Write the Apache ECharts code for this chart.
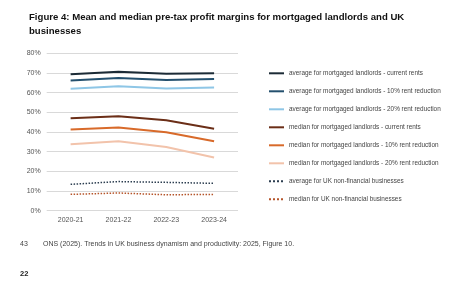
<!DOCTYPE html>
<html>
<head>
<meta charset="utf-8">
<script src="https://cdn.jsdelivr.net/npm/echarts@6/dist/echarts.min.js"></script>
<style>
html, body { margin: 0; padding: 0; background: #fff; }
#main { width: 465px; height: 301px; }
</style>
</head>
<body>
<div id="main"></div>
<script>
var years = ["2020-21", "2021-22", "2022-23", "2023-24"];
var yTicks = [0, 10, 20, 30, 40, 50, 60, 70, 80];

var avgCurrent = [69.4, 70.6, 69.6, 69.9];
var avg10 = [66.2, 67.4, 66.4, 66.9];
var avg20 = [62.0, 63.3, 62.1, 62.6];
var medCurrent = [47.0, 48.0, 46.0, 41.6];
var med10 = [41.3, 42.3, 39.9, 35.3];
var med20 = [33.8, 35.3, 32.4, 27.0];
var avgUK = [13.4, 14.8, 14.4, 13.9];
var medUK = [8.3, 9.0, 8.1, 8.3];

var names = [
  "average for mortgaged landlords - current rents",
  "average for mortgaged landlords - 10% rent reduction",
  "average for mortgaged landlords - 20% rent reduction",
  "median for mortgaged landlords - current rents",
  "median for mortgaged landlords - 10% rent reduction",
  "median for mortgaged landlords - 20% rent reduction",
  "average for UK non-financial businesses",
  "median for UK non-financial businesses"
];
var values = [avgCurrent, avg10, avg20, medCurrent, med10, med20, avgUK, medUK];
var colors = ['#1c2b36', '#24506e', '#8ec6e6', '#6b2e17', '#d86a2a', '#f2c3ab', '#2c3e50', '#b5542a'];

var series = [];
for (var i = 0; i < names.length; i++) {
  var dotted = i >= 6;
  series.push({
    name: names[i],
    type: 'line',
    data: values[i],
    symbol: 'none',
    smooth: false,
    lineStyle: { color: colors[i], width: dotted ? 1.5 : 2, type: dotted ? 'dotted' : 'solid' },
    itemStyle: { color: colors[i] }
  });
}

var myChart = echarts.init(document.getElementById('main'));
var option = {
  animation: false,
  title: {
    text: 'Figure 4: Mean and median pre-tax profit margins for mortgaged landlords and UK\nbusinesses',
    left: 24,
    top: 5,
    textStyle: { fontFamily: 'Liberation Sans', fontSize: 9.6, fontWeight: 'bold', color: '#111', lineHeight: 14.5 }
  },
  graphic: [
    { type: 'text', left: 20, top: 241, style: { text: '43', fontFamily: 'Liberation Sans', fontSize: 7, fill: '#444' } },
    { type: 'text', left: 43, top: 241, style: { text: 'ONS (2025). Trends in UK business dynamism and productivity: 2025, Figure 10.', fontFamily: 'Liberation Sans', fontSize: 7, fill: '#444' } },
    { type: 'text', left: 20, top: 270, style: { text: '22', fontFamily: 'Liberation Sans', fontSize: 7.5, fontWeight: 'bold', fill: '#222' } }
  ],
  legend: {
    orient: 'vertical',
    left: 268,
    top: 68.5,
    padding: 0,
    itemWidth: 15,
    itemHeight: 8,
    itemGap: 8.4,
    itemStyle: { opacity: 0 },
    textStyle: { fontFamily: 'Liberation Sans', fontSize: 6.4, color: '#444', lineHeight: 9.6 },
    data: names
  },
  grid: { left: 46.7, right: 227, top: 53.3, bottom: 90.3, containLabel: false },
  xAxis: {
    type: 'category',
    data: years,
    boundaryGap: true,
    axisLine: { show: false },
    axisTick: { show: false },
    axisLabel: { fontFamily: 'Liberation Sans', fontSize: 7, color: '#555', margin: 6 }
  },
  yAxis: {
    type: 'value',
    min: yTicks[0],
    max: yTicks[yTicks.length - 1],
    interval: 10,
    axisLine: { show: false },
    axisTick: { show: false },
    splitLine: { lineStyle: { color: '#d9d9d9', width: 1 } },
    axisLabel: { fontFamily: 'Liberation Sans', fontSize: 7, color: '#555', margin: 6, formatter: '{value}%' }
  },
  color: colors,
  series: series
};
myChart.setOption(option);
</script>
</body>
</html>
